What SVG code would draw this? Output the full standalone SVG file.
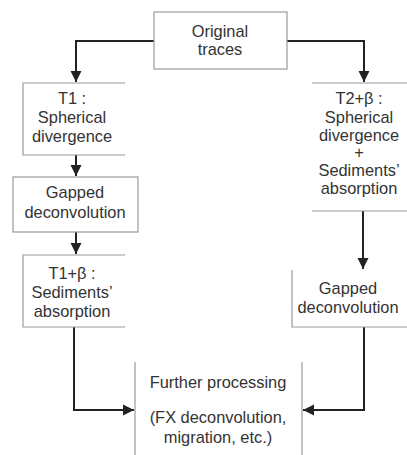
<svg xmlns="http://www.w3.org/2000/svg" width="407" height="455" viewBox="0 0 407 455">
<defs>
<style>
text{font-family:"Liberation Sans",Arial,sans-serif;font-size:16.4px;fill:#333;text-anchor:middle}
.b{fill:none;stroke:#9a9a9a;stroke-width:1.2}
.c{fill:none;stroke:#222;stroke-width:2}
</style>
<marker id="ah" markerUnits="userSpaceOnUse" markerWidth="12" markerHeight="12" viewBox="0 0 12 12" refX="11" refY="6" orient="auto">
<path d="M0,0.5 L11,6 L0,11.5 Z" fill="#222"/>
</marker>
</defs>
<rect width="407" height="455" fill="#fff"/>
<g id="connectors">
<path class="c" d="M154,41 H76 V82" marker-end="url(#ah)"/>
<path class="c" d="M287,41 H364 V82" marker-end="url(#ah)"/>
<path class="c" d="M76,155 V176" marker-end="url(#ah)"/>
<path class="c" d="M76,232 V254" marker-end="url(#ah)"/>
<path class="c" d="M74,327 V410 H134" marker-end="url(#ah)"/>
<path class="c" d="M363,211 V269" marker-end="url(#ah)"/>
<path class="c" d="M364,327 V410 H303" marker-end="url(#ah)"/>
</g>
<g id="original">
<rect class="b" x="154" y="12" width="133" height="57"/>
<text x="220" y="37">Original</text>
<text x="220" y="55">traces</text>
</g>
<g id="t1">
<path class="b" d="M125,83 H23 V155 H125"/>
<text x="72" y="104">T1 :</text>
<text x="72" y="123">Spherical</text>
<text x="72" y="142">divergence</text>
</g>
<g id="gapped-left">
<rect class="b" x="13" y="177" width="125" height="55"/>
<text x="75" y="198">Gapped</text>
<text x="75" y="218">deconvolution</text>
</g>
<g id="t1beta">
<path class="b" d="M125,255 H23 V327 H125"/>
<text x="72" y="279">T1+β :</text>
<text x="72" y="298">Sediments’</text>
<text x="72" y="317">absorption</text>
</g>
<g id="t2beta">
<path class="b" d="M312,83 H407 M312,211 H407"/>
<text x="359" y="104">T2+β :</text>
<text x="359" y="123">Spherical</text>
<text x="359" y="141">divergence</text>
<text x="359" y="158">+</text>
<text x="359" y="176">Sediments’</text>
<text x="359" y="194">absorption</text>
</g>
<g id="gapped-right">
<path class="b" d="M292,270 V327 H407"/>
<text x="348" y="294">Gapped</text>
<text x="348" y="313">deconvolution</text>
</g>
<g id="further">
<path class="b" d="M135,362 V455 M302,362 V455"/>
<text x="218" y="388">Further processing</text>
<text x="218" y="423">(FX deconvolution,</text>
<text x="218" y="443">migration, etc.)</text>
</g>
</svg>
